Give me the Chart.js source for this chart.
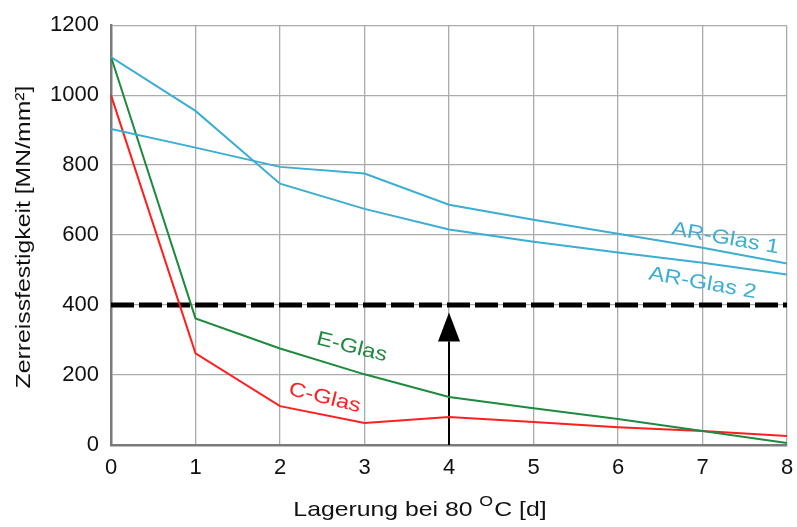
<!DOCTYPE html>
<html>
<head>
<meta charset="utf-8">
<script src="https://cdn.jsdelivr.net/npm/chart.js@4/dist/chart.umd.min.js"></script>
<style>
  html, body { margin: 0; padding: 0; background: #fff; }
  #wrap { width: 797px; height: 527px; }
</style>
</head>
<body>
<div id="wrap"><canvas id="c"></canvas></div>
<script>
// Lagerung bei 80 °C [d]
const days = [0, 1, 2, 3, 4, 5, 6, 7, 8];

// Zerreissfestigkeit [MN/mm²]
const arGlas1 = [903, 850, 795, 776, 687, 644, 604, 564, 519];
const arGlas2 = [1109, 955, 747, 675, 616, 581, 550, 521, 487];
const eGlas = [1110, 362, 276, 202, 137, 105, 74, 40, 6];
const cGlas = [1000, 262, 111, 63, 80, 66, 51, 40, 26];

const limit = 400;        // dashed reference line
const arrowX = 4;         // arrow from 0 up to the limit
const arrowTip = 379;
const arrowBase = 296;

const xTicks = [0, 1, 2, 3, 4, 5, 6, 7, 8];
const yTicks = [0, 200, 400, 600, 800, 1000, 1200];

const CYAN = '#3cadd3';
const GREEN = '#1d8a3e';
const RED = '#ff1f1f';
const FONT = 'Liberation Sans, Arial, sans-serif';
const WIDE = 1.18;   // the original lettering runs a bit wider than Arial

const pts = vals => vals.map((v, i) => ({ x: days[i], y: v }));

// series labels written next to the curves: [text, x, y, angle, colour]
const curveLabels = [
  ['AR-Glas 1', 7.27, 590, 10, CYAN],
  ['AR-Glas 2', 7.0, 462, 10, CYAN],
  ['E-Glas', 2.85, 279, 14, GREEN],
  ['C-Glas', 2.53, 134, 14, RED],
];

function wideText(ctx, text, px, py, angle, size) {
  ctx.save();
  ctx.translate(px, py);
  ctx.rotate(angle);
  ctx.scale(WIDE, 1);
  ctx.font = size + 'px ' + FONT;
  ctx.fillText(text, 0, 0);
  ctx.restore();
}

const extras = {
  id: 'extras',
  afterDatasetsDraw(chart) {
    const { ctx, scales: { x, y } } = chart;
    ctx.save();

    // arrow head
    const ax = x.getPixelForValue(arrowX);
    const tip = y.getPixelForValue(arrowTip);
    const base = y.getPixelForValue(arrowBase);
    ctx.fillStyle = '#000';
    ctx.beginPath();
    ctx.moveTo(ax, tip);
    ctx.lineTo(ax - 11, base);
    ctx.lineTo(ax + 11, base);
    ctx.closePath();
    ctx.fill();

    // curve labels
    ctx.textAlign = 'center';
    ctx.textBaseline = 'middle';
    curveLabels.forEach(([t, vx, vy, ang, col]) => {
      ctx.fillStyle = col;
      wideText(ctx, t, x.getPixelForValue(vx), y.getPixelForValue(vy), ang * Math.PI / 180, 20);
    });

    // y title
    ctx.fillStyle = '#111';
    wideText(ctx, 'Zerreissfestigkeit [MN/mm²]', 24, 237, -Math.PI / 2, 21);

    // x title with superscript O
    const a = 'Lagerung bei 80 ', b = 'O', c = 'C [d]';
    ctx.font = '21px ' + FONT;
    const wa = ctx.measureText(a).width * WIDE, wc = ctx.measureText(c).width * WIDE;
    ctx.font = '15px ' + FONT;
    const wb = (ctx.measureText(b).width + 1) * WIDE;
    const sx = 420 - (wa + wb + wc) / 2;
    ctx.textAlign = 'left';
    wideText(ctx, a, sx, 510, 0, 21);
    wideText(ctx, b, sx + wa, 502, 0, 15);
    wideText(ctx, c, sx + wa + wb, 510, 0, 21);

    ctx.restore();
  }
};

new Chart(document.getElementById('c'), {
  type: 'line',
  data: {
    datasets: [
      { data: pts(arGlas1), borderColor: CYAN, borderWidth: 2 },
      { data: pts(arGlas2), borderColor: CYAN, borderWidth: 2 },
      { data: pts(eGlas), borderColor: GREEN, borderWidth: 2 },
      { data: pts(cGlas), borderColor: RED, borderWidth: 2 },
      {
        data: [{ x: days[0], y: limit }, { x: days[days.length - 1], y: limit }],
        borderColor: '#000', borderWidth: 5, borderDash: [23, 5],
      },
      {
        data: [{ x: arrowX, y: 0 }, { x: arrowX, y: arrowBase }],
        borderColor: '#000', borderWidth: 2,
      },
    ],
  },
  options: {
    responsive: true,
    maintainAspectRatio: false,
    animation: false,
    events: [],
    layout: { padding: { top: 24, right: 10, left: 0, bottom: 0 } },
    elements: { point: { radius: 0 }, line: { tension: 0, fill: false } },
    plugins: { legend: { display: false }, tooltip: { enabled: false } },
    scales: {
      x: {
        type: 'linear',
        min: 0, max: 8,
        afterBuildTicks: s => { s.ticks = xTicks.map(v => ({ value: v })); },
        afterFit: s => { s.height = 82; s.paddingRight = 0; s.paddingLeft = 0; },
        ticks: { color: '#111', font: { size: 22, family: FONT }, padding: 10, maxRotation: 0, callback: v => String(v) },
        grid: { color: '#ababab', lineWidth: 1.3, drawTicks: false },
        border: { color: '#7a7a7a', width: 2.5 },
      },
      y: {
        min: 0, max: 1200,
        afterBuildTicks: s => { s.ticks = yTicks.map(v => ({ value: v })); },
        afterFit: s => { s.width = 111; },
        ticks: { color: '#111', font: { size: 22, family: FONT }, padding: 12, callback: v => String(v) },
        grid: { color: '#ababab', lineWidth: 1.3, drawTicks: false },
        border: { color: '#7a7a7a', width: 2.5 },
      },
    },
  },
  plugins: [extras],
});
</script>
</body>
</html>
